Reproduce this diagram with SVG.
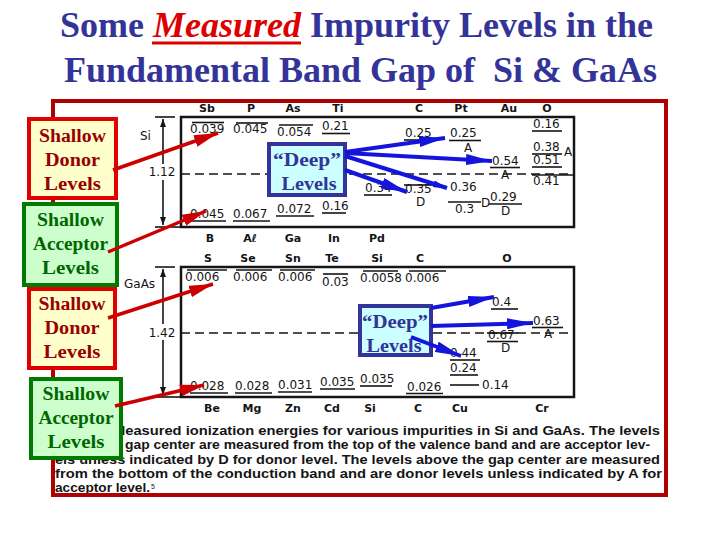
<svg xmlns="http://www.w3.org/2000/svg" width="720" height="540" viewBox="0 0 720 540">
<defs>
<style>
.title{font-family:"Liberation Serif","Times New Roman",serif;font-weight:bold;font-size:36px;fill:#333399}
.num{font-family:"DejaVu Sans",sans-serif;font-size:12px;fill:#151515}
.el{font-family:"DejaVu Sans",sans-serif;font-weight:bold;font-size:11px;fill:#151515;text-anchor:middle}
.cap{font-family:"Liberation Sans",Arial,sans-serif;font-weight:bold;font-size:12.5px;fill:#151515}
.lv{stroke:#151515;stroke-width:1.6;fill:none}
.box{stroke:#151515;stroke-width:2.5;fill:none}
.dash{stroke:#151515;stroke-width:1.4;stroke-dasharray:9 5;fill:none}
.call{font-family:"Liberation Serif","Times New Roman",serif;font-weight:bold;font-size:18px;text-anchor:middle}
.rb{fill:#ffffcc;stroke:#e00000;stroke-width:4}
.gb{fill:#ccffcc;stroke:#007a00;stroke-width:4}
.db{fill:#ccffff;stroke:#333399;stroke-width:4}
.ra{stroke:#cc0000;stroke-width:3.5;fill:none}
.ba{stroke:#1414dc;stroke-width:4;fill:none}
</style>
<marker id="hr" markerUnits="userSpaceOnUse" markerWidth="24" markerHeight="12" refX="24" refY="6" orient="auto"><path d="M0,0 L24,6 L0,12 z" fill="#cc0000"/></marker>
<marker id="hb" markerUnits="userSpaceOnUse" markerWidth="26" markerHeight="11" refX="26" refY="5.5" orient="auto"><path d="M0,0 L26,5.5 L0,11 z" fill="#1414dc"/></marker>
<marker id="hbs" markerUnits="userSpaceOnUse" markerWidth="14" markerHeight="7" refX="14" refY="3.5" orient="auto"><path d="M0,0 L14,3.5 L0,7 z" fill="#1414dc"/></marker>
<marker id="hk" markerUnits="userSpaceOnUse" markerWidth="8" markerHeight="6" refX="8" refY="3" orient="auto"><path d="M0,0 L8,3 L0,6 z" fill="#151515"/></marker>
</defs>
<rect width="720" height="540" fill="#ffffff"/>

<g id="title">
<text class="title" x="60" y="37">Some <tspan fill="#dd0000" font-style="italic">Measured</tspan> Impurity Levels in the</text>
<line x1="152" y1="43" x2="301" y2="43" stroke="#dd0000" stroke-width="3"/>
<text class="title" x="64" y="82" xml:space="preserve">Fundamental Band Gap of  Si &amp; GaAs</text>
</g>

<g id="figure">
<!-- Si -->
<text class="el" x="207" y="112">Sb</text><text class="el" x="251" y="112">P</text><text class="el" x="293" y="112">As</text><text class="el" x="338" y="112">Ti</text>
<text class="el" x="419" y="112">C</text><text class="el" x="461" y="112">Pt</text><text class="el" x="509" y="112">Au</text><text class="el" x="547" y="112">O</text>
<rect class="box" x="181" y="117" width="393" height="110"/>
<text class="num" x="140" y="140">Si</text>
<line class="lv" x1="155" y1="117" x2="175" y2="117"/>
<line class="lv" x1="155" y1="227" x2="181" y2="227"/>
<line class="lv" x1="163" y1="164" x2="163" y2="119" marker-end="url(#hk)"/>
<line class="lv" x1="163" y1="180" x2="163" y2="225" marker-end="url(#hk)"/>
<text class="num" x="162" y="176" text-anchor="middle" font-size="11">1.12</text>
<line class="dash" x1="181" y1="174" x2="574" y2="174"/>
<line class="lv" x1="192" y1="122.5" x2="224" y2="122.5"/><text class="num" x="190" y="133">0.039</text>
<line class="lv" x1="236" y1="123" x2="268" y2="123"/><text class="num" x="233" y="133">0.045</text>
<line class="lv" x1="279" y1="125" x2="313" y2="125"/><text class="num" x="277" y="136">0.054</text>
<text class="num" x="322" y="130">0.21</text><line class="lv" x1="322" y1="133.5" x2="350" y2="133.5"/>
<text class="num" x="405" y="137">0.25</text><line class="lv" x1="404" y1="140" x2="436" y2="140"/>
<text class="num" x="450" y="137">0.25</text><line class="lv" x1="449" y1="140.5" x2="481" y2="140.5"/><text class="num" x="464" y="152" font-size="10">A</text>
<text class="num" x="533" y="128">0.16</text><line class="lv" x1="532" y1="131" x2="562" y2="131"/>
<text class="num" x="533" y="151">0.38</text><line class="lv" x1="532" y1="154" x2="562" y2="154"/><text class="num" x="564" y="156" font-size="10">A</text>
<text class="num" x="533" y="164">0.51</text><line class="lv" x1="532" y1="167" x2="562" y2="167"/>
<text class="num" x="492" y="165">0.54</text><line class="lv" x1="490" y1="167.5" x2="520" y2="167.5"/><text class="num" x="501" y="179" font-size="10">A</text>
<line class="lv" x1="532" y1="175" x2="574" y2="175"/><text class="num" x="533" y="185">0.41</text>
<text class="num" x="365" y="192">0.34</text><line class="lv" x1="364" y1="195" x2="392" y2="195"/>
<line class="lv" x1="404" y1="185" x2="435" y2="185"/><text class="num" x="405" y="193">0.35</text><text class="num" x="416" y="206" font-size="9.5">D</text>
<text class="num" x="450" y="191">0.36</text>
<line class="lv" x1="448" y1="202" x2="481" y2="202"/><text class="num" x="455" y="213">0.3</text><text class="num" x="481" y="207" font-size="10">D</text>
<text class="num" x="490" y="201">0.29</text><line class="lv" x1="489" y1="204" x2="522" y2="204"/><text class="num" x="501" y="215" font-size="10">D</text>
<text class="num" x="190" y="218">0.045</text><line class="lv" x1="189" y1="221" x2="226" y2="221"/>
<text class="num" x="233" y="218">0.067</text><line class="lv" x1="233" y1="221" x2="270" y2="221"/>
<text class="num" x="277" y="213">0.072</text><line class="lv" x1="276" y1="216" x2="314" y2="216"/>
<text class="num" x="322" y="210">0.16</text><line class="lv" x1="322" y1="213" x2="346" y2="213"/>

<!-- middle labels -->
<text class="el" x="210" y="242">B</text><text class="el" x="250" y="242">Aℓ</text><text class="el" x="293" y="242">Ga</text><text class="el" x="334" y="242">In</text><text class="el" x="377" y="242">Pd</text>
<text class="el" x="208" y="262">S</text><text class="el" x="248" y="262">Se</text><text class="el" x="293" y="262">Sn</text><text class="el" x="332" y="262">Te</text><text class="el" x="377" y="262">Si</text><text class="el" x="420" y="262">C</text><text class="el" x="507" y="262">O</text>

<!-- GaAs -->
<rect class="box" x="181" y="267" width="393" height="130"/>
<text class="num" x="124" y="288">GaAs</text>
<line class="lv" x1="155" y1="267" x2="175" y2="267"/>
<line class="lv" x1="155" y1="397" x2="181" y2="397"/>
<line class="lv" x1="163" y1="324" x2="163" y2="269" marker-end="url(#hk)"/>
<line class="lv" x1="163" y1="340" x2="163" y2="395" marker-end="url(#hk)"/>
<text class="num" x="162" y="337" text-anchor="middle" font-size="11">1.42</text>
<line class="dash" x1="181" y1="333" x2="574" y2="333"/>
<line class="lv" x1="187" y1="270" x2="227" y2="270"/><text class="num" x="185" y="281">0.006</text>
<line class="lv" x1="236" y1="270" x2="272" y2="270"/><text class="num" x="233" y="281">0.006</text>
<line class="lv" x1="280" y1="270" x2="315" y2="270"/><text class="num" x="278" y="281">0.006</text>
<line class="lv" x1="323" y1="274" x2="348" y2="274"/><text class="num" x="322" y="286">0.03</text>
<line class="lv" x1="363" y1="271" x2="398" y2="271"/><text class="num" x="360" y="282">0.0058</text>
<line class="lv" x1="409" y1="271" x2="446" y2="271"/><text class="num" x="405" y="282">0.006</text>
<text class="num" x="492" y="306">0.4</text><line class="lv" x1="491" y1="309" x2="518" y2="309"/>
<text class="num" x="533" y="325">0.63</text><line class="lv" x1="532" y1="327.5" x2="563" y2="327.5"/><text class="num" x="544" y="338" font-size="10">A</text>
<line class="lv" x1="487" y1="333" x2="518" y2="333"/><text class="num" x="488" y="339">0.67</text><line class="lv" x1="487" y1="341.5" x2="518" y2="341.5"/><text class="num" x="501" y="352" font-size="10">D</text>
<text class="num" x="450" y="357">0.44</text><line class="lv" x1="450" y1="360" x2="480" y2="360"/>
<text class="num" x="450" y="372">0.24</text><line class="lv" x1="450" y1="375" x2="478" y2="375"/>
<line class="lv" x1="450" y1="385" x2="479" y2="385"/><text class="num" x="482" y="389">0.14</text>
<text class="num" x="360" y="383">0.035</text><line class="lv" x1="360" y1="386" x2="392" y2="386"/>
<text class="num" x="407" y="391">0.026</text><line class="lv" x1="406" y1="393.5" x2="443" y2="393.5"/>
<text class="num" x="190" y="390">0.028</text><line class="lv" x1="190" y1="393" x2="228" y2="393"/>
<text class="num" x="235" y="390">0.028</text><line class="lv" x1="235" y1="393" x2="272" y2="393"/>
<text class="num" x="278" y="389">0.031</text><line class="lv" x1="278" y1="392" x2="312" y2="392"/>
<text class="num" x="320" y="386">0.035</text><line class="lv" x1="320" y1="389" x2="355" y2="389"/>
<text class="el" x="212" y="412">Be</text><text class="el" x="252" y="412">Mg</text><text class="el" x="293" y="412">Zn</text><text class="el" x="332" y="412">Cd</text>
<text class="el" x="370" y="412">Si</text><text class="el" x="418" y="412">C</text><text class="el" x="460" y="412">Cu</text><text class="el" x="542" y="412">Cr</text>

<!-- caption -->
<text class="cap" x="113" y="435" textLength="547" lengthAdjust="spacingAndGlyphs">Measured ionization energies for various impurities in Si and GaAs.  The levels</text>
<text class="cap" x="125" y="449" textLength="525" lengthAdjust="spacingAndGlyphs">gap center are measured from the top of the valence band and are acceptor lev-</text>
<text class="cap" x="55" y="464" textLength="605" lengthAdjust="spacingAndGlyphs">els unless indicated by D for donor level.  The levels above the gap center are measured</text>
<text class="cap" x="55" y="478" textLength="607" lengthAdjust="spacingAndGlyphs">from the bottom of the conduction band and are donor levels unless indicated by A for</text>
<text class="cap" x="55" y="492"><tspan textLength="95" lengthAdjust="spacingAndGlyphs">acceptor level.</tspan><tspan font-size="7" font-weight="normal" dx="1" dy="-3">5</tspan></text>
</g>

<rect id="frame" x="53" y="101" width="613" height="394" fill="none" stroke="#b00000" stroke-width="4"/>

<g id="shallow-donor-si"><rect class="rb" x="29" y="119" width="87" height="79"/>
<text class="call" fill="#990000"><tspan x="72.5" y="142" textLength="67" lengthAdjust="spacingAndGlyphs">Shallow</tspan><tspan x="72.5" y="166" textLength="55" lengthAdjust="spacingAndGlyphs">Donor</tspan><tspan x="72.5" y="190" textLength="57" lengthAdjust="spacingAndGlyphs">Levels</tspan></text></g>
<g id="shallow-acceptor-si"><rect class="gb" x="24" y="204" width="93" height="81"/>
<text class="call" fill="#006600"><tspan x="70.5" y="226" textLength="67" lengthAdjust="spacingAndGlyphs">Shallow</tspan><tspan x="70.5" y="250" textLength="75" lengthAdjust="spacingAndGlyphs">Acceptor</tspan><tspan x="70.5" y="274" textLength="57" lengthAdjust="spacingAndGlyphs">Levels</tspan></text></g>
<g id="shallow-donor-gaas"><rect class="rb" x="29" y="289" width="86" height="79"/>
<text class="call" fill="#990000"><tspan x="72" y="310" textLength="67" lengthAdjust="spacingAndGlyphs">Shallow</tspan><tspan x="72" y="334" textLength="55" lengthAdjust="spacingAndGlyphs">Donor</tspan><tspan x="72" y="358" textLength="57" lengthAdjust="spacingAndGlyphs">Levels</tspan></text></g>
<g id="shallow-acceptor-gaas"><rect class="gb" x="31" y="379" width="90" height="79"/>
<text class="call" fill="#006600"><tspan x="76" y="400" textLength="67" lengthAdjust="spacingAndGlyphs">Shallow</tspan><tspan x="76" y="424" textLength="75" lengthAdjust="spacingAndGlyphs">Acceptor</tspan><tspan x="76" y="448" textLength="57" lengthAdjust="spacingAndGlyphs">Levels</tspan></text></g>
<g id="deep-si"><rect class="db" x="269" y="144" width="76" height="51"/>
<text class="call" fill="#333399"><tspan x="307" y="166" textLength="68" lengthAdjust="spacingAndGlyphs">“Deep”</tspan><tspan x="309" y="190" textLength="55" lengthAdjust="spacingAndGlyphs">Levels</tspan></text></g>
<g id="deep-gaas"><rect class="db" x="360" y="306" width="71" height="49"/>
<text class="call" fill="#333399"><tspan x="395" y="328" textLength="66" lengthAdjust="spacingAndGlyphs">“Deep”</tspan><tspan x="394" y="352" textLength="55" lengthAdjust="spacingAndGlyphs">Levels</tspan></text></g>

<g id="connectors">
<line class="ra" x1="113" y1="170" x2="218" y2="133" marker-end="url(#hr)"/>
<line class="ra" x1="108" y1="252" x2="206" y2="211" marker-end="url(#hr)"/>
<line class="ra" x1="108" y1="318" x2="213" y2="284" marker-end="url(#hr)"/>
<line class="ra" x1="115" y1="406" x2="204" y2="385" marker-end="url(#hr)"/>
<line class="ba" x1="345" y1="152" x2="445" y2="138" marker-end="url(#hb)"/>
<line class="ba" x1="345" y1="153" x2="492" y2="161" marker-end="url(#hb)"/>
<line class="ba" x1="345" y1="156" x2="447" y2="188" stroke-width="2" marker-end="url(#hbs)"/>
<line class="ba" x1="345" y1="170" x2="407" y2="192" marker-end="url(#hb)"/>
<line class="ba" x1="431" y1="308" x2="494" y2="297" marker-end="url(#hb)"/>
<line class="ba" x1="431" y1="326" x2="533" y2="323" marker-end="url(#hb)"/>
<line class="ba" x1="411" y1="337" x2="461" y2="356" marker-end="url(#hb)"/>
</g>
</svg>
